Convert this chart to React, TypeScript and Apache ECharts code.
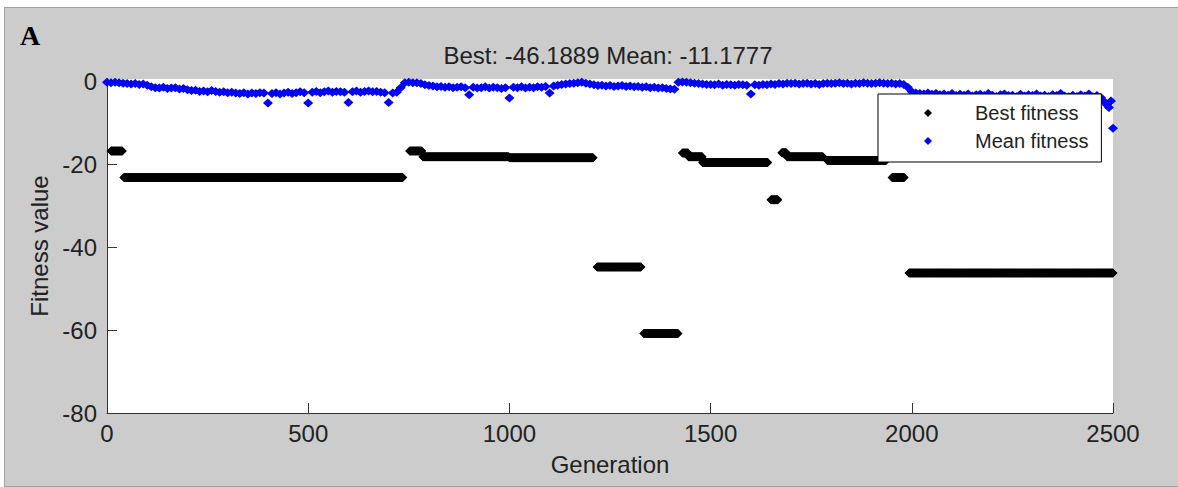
import { useEffect, useRef } from "react";
import * as echarts from "echarts";

// Axis ticks
const generationTicks = [0, 500, 1000, 1500, 2000, 2500];
const fitnessTicks = [-80, -60, -40, -20, 0];

// Best fitness, constant over runs of generations: first gen, last gen, value
const bestRunStart = [10, 42, 752, 785, 1000, 1218, 1334, 1430, 1445, 1480, 1650, 1677, 1690, 1790, 1951, 1993];
const bestRunEnd = [38, 735, 782, 998, 1208, 1327, 1419, 1444, 1479, 1642, 1667, 1688, 1779, 1936, 1981, 2500];
const bestRunValue = [-16.7, -23.1, -16.7, -18.1, -18.3, -44.7, -60.8, -17.2, -18.1, -19.5, -28.5, -17.1, -18.1, -19.0, -23.1, -46.1889];

// Mean fitness of the population, one value every 10 generations (0..2500)
const MEAN_STEP = 10;
const meanFitness = [
  -0.1, -0.2, -0.1, -0.2, -0.3, -0.4, -0.5, -0.4, -0.6, -0.5,
  -0.8, -1.2, -1.4, -1.5, -1.3, -1.6, -1.5, -1.4, -1.7, -1.6,
  -1.9, -2.1, -2.0, -2.3, -2.2, -2.4, -2.1, -2.3, -2.5, -2.4,
  -2.6, -2.5, -2.7, -2.8, -2.6, -2.9, -2.7, -2.8, -2.6, -2.7,
  -5.1, -2.8, -2.6, -2.9, -2.7, -2.5, -2.8, -2.6, -2.4, -2.6,
  -5.1, -2.5, -2.3, -2.6, -2.4, -2.2, -2.5, -2.3, -2.4, -2.5,
  -5.0, -2.4, -2.2, -2.5, -2.3, -2.2, -2.4, -2.3, -2.5, -2.6,
  -5.0, -2.7, -2.5, -1.4, -0.2, -0.1, -0.2, -0.2, -0.4, -0.7,
  -0.9, -1.0, -1.2, -1.1, -1.3, -1.2, -1.4, -1.3, -1.2, -1.4,
  -3.1, -1.3, -1.5, -1.4, -1.2, -1.5, -1.3, -1.4, -1.6, -1.4,
  -3.9, -1.3, -1.4, -1.2, -1.5, -1.3, -1.4, -1.2, -1.3, -1.1,
  -2.7, -1.0, -0.8, -0.6, -0.5, -0.4, -0.3, -0.2, -0.1, -0.3,
  -0.5, -0.7, -0.9, -0.8, -1.0, -0.9, -1.1, -1.0, -0.9, -1.1,
  -1.0, -1.2, -1.1, -1.3, -1.2, -1.4, -1.3, -1.5, -1.4, -1.6,
  -1.7, -1.8, -0.1, 0.0, -0.1, -0.2, -0.3, -0.4, -0.5, -0.6,
  -0.6, -0.7, -0.5, -0.8, -0.6, -0.7, -0.8, -0.6, -0.7, -0.8,
  -2.9, -0.7, -0.8, -0.6, -0.7, -0.5, -0.6, -0.4, -0.5, -0.3,
  -0.4, -0.3, -0.5, -0.4, -0.3, -0.5, -0.4, -0.6, -0.4, -0.3,
  -0.4, -0.3, -0.2, -0.4, -0.3, -0.5, -0.3, -0.4, -0.2, -0.3,
  -0.4, -0.3, -0.2, -0.3, -0.4, -0.3, -0.5, -0.4, -0.6, -1.3,
  -2.4, -2.7, -2.8, -2.9, -2.7, -3.0, -2.8, -3.1, -2.9, -3.2,
  -2.8, -3.3, -3.0, -3.2, -2.9, -3.4, -3.1, -3.0, -3.3, -2.8,
  -3.2, -3.5, -3.1, -2.9, -3.3, -3.2, -3.6, -3.0, -3.4, -3.1,
  -3.3, -2.9, -3.4, -3.2, -3.5, -3.1, -3.3, -2.8, -3.4, -3.6,
  -3.2, -3.5, -3.1, -3.4, -2.9, -3.6, -3.3, -3.8, -4.9, -6.2,
  -11.1777,
];
// A few generations of the final cluster between the 10-generation samples
const meanExtraGen = [2485, 2495];
const meanExtraValue = [-5.6, -4.6];

const FONT = '"Liberation Sans", Arial, Helvetica, sans-serif';
const INK = "#222222";
const AXIS = "#333333";

export default function App() {
  const ref = useRef<HTMLDivElement>(null);

  useEffect(() => {
    document.body.style.margin = "0";
    if (!ref.current) return;
    const chart = echarts.init(ref.current, undefined, { renderer: "svg" });

    const bestData: [number, number][] = [];
    bestRunStart.forEach((start, i) => {
      for (let g = start; g <= bestRunEnd[i]; g++) bestData.push([g, bestRunValue[i]]);
    });

    const meanData: [number, number][] = meanFitness.map((v, i) => [i * MEAN_STEP, v]);
    meanExtraGen.forEach((g, i) => meanData.push([g, meanExtraValue[i]]));

    const lastBest = bestRunValue[bestRunValue.length - 1];
    const lastMean = meanFitness[meanFitness.length - 1];

    chart.setOption({
      animation: false,
      graphic: [
        {
          type: "text",
          left: 20,
          top: 21,
          style: {
            text: "A",
            font: 'bold 28px "Liberation Serif", "Times New Roman", serif',
            fill: "#000",
          },
        },
        {
          type: "text",
          x: 608,
          y: 55,
          style: {
            text: `Best: ${lastBest} Mean: ${lastMean}`,
            font: `24px ${FONT}`,
            fill: INK,
            align: "center",
            verticalAlign: "middle",
          },
        },
      ],
      grid: {
        left: 107,
        right: 65,
        top: 79,
        bottom: 74,
        show: true,
        backgroundColor: "#ffffff",
        borderWidth: 0,
        containLabel: false,
      },
      legend: {
        orient: "vertical",
        left: 878,
        top: 94,
        padding: [9, 13, 11, 46],
        itemWidth: 8,
        itemHeight: 8,
        itemGap: 8,
        backgroundColor: "#ffffff",
        borderColor: "#000000",
        borderWidth: 1,
        borderRadius: 0,
        selectedMode: false,
        textStyle: {
          fontFamily: FONT,
          fontSize: 20,
          color: INK,
          lineHeight: 20,
          padding: [0, 0, 0, 38],
        },
        data: [
          { name: "Best fitness", icon: "diamond" },
          { name: "Mean fitness", icon: "diamond" },
        ],
      },
      xAxis: {
        type: "value",
        min: generationTicks[0],
        max: generationTicks[generationTicks.length - 1],
        interval: 500,
        name: "Generation",
        nameLocation: "middle",
        nameGap: 39,
        nameTextStyle: { fontFamily: FONT, fontSize: 24, color: INK },
        axisLine: { show: true, onZero: false, lineStyle: { color: AXIS, width: 1 } },
        axisTick: { show: true, inside: true, length: 10, lineStyle: { color: AXIS } },
        axisLabel: {
          fontFamily: FONT,
          fontSize: 24,
          color: INK,
          margin: 8,
          formatter: (v: number) => String(v),
        },
        splitLine: { show: false },
      },
      yAxis: {
        type: "value",
        min: -80,
        max: 0.7,
        interval: 20,
        name: "Fitness value",
        nameLocation: "middle",
        nameRotate: 90,
        nameGap: 56,
        nameTextStyle: { fontFamily: FONT, fontSize: 24, color: INK },
        axisLine: { show: true, onZero: false, lineStyle: { color: AXIS, width: 1 } },
        axisTick: {
          show: true,
          inside: true,
          length: 10,
          lineStyle: { color: AXIS },
          customValues: fitnessTicks,
        },
        axisLabel: {
          fontFamily: FONT,
          fontSize: 24,
          color: INK,
          margin: 10,
          customValues: fitnessTicks,
          formatter: (v: number) => String(v),
        },
        splitLine: { show: false },
      },
      series: [
        {
          name: "Best fitness",
          type: "scatter",
          symbol: "diamond",
          symbolSize: 9,
          itemStyle: { color: "#000000", opacity: 1 },
          data: bestData,
          progressive: 0,
          large: false,
          silent: true,
        },
        {
          name: "Mean fitness",
          type: "scatter",
          symbol: "diamond",
          symbolSize: [10, 9],
          itemStyle: { color: "#0000ff", opacity: 1 },
          data: meanData,
          progressive: 0,
          large: false,
          silent: true,
        },
      ],
    });

    return () => chart.dispose();
  }, []);

  return (
    <div style={{ position: "relative", width: 1178, height: 487, background: "#ffffff" }}>
      <div
        style={{
          position: "absolute",
          left: 4,
          top: 7,
          width: 1174,
          height: 480,
          boxSizing: "border-box",
          background: "#cccccc",
          borderLeft: "1px solid #a0a0a0",
          borderTop: "1px solid #a0a0a0",
          borderBottom: "1px solid #a0a0a0",
        }}
      />
      <div ref={ref} style={{ position: "absolute", left: 0, top: 0, width: 1178, height: 487 }} />
    </div>
  );
}
